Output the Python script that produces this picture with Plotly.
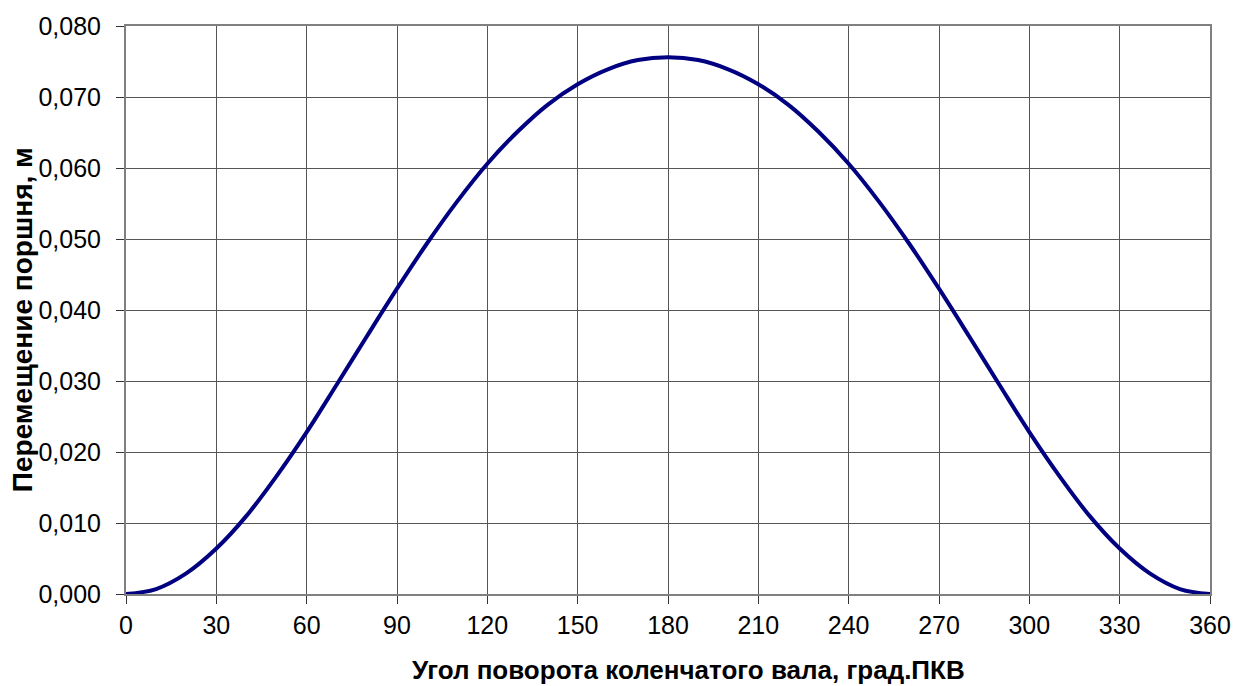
import plotly.graph_objects as go

# Crank angle, degrees
angle_deg = [0, 10, 20, 30, 40, 50, 60, 70, 80, 90, 100, 110, 120, 130, 140, 150, 160, 170,
             180, 190, 200, 210, 220, 230, 240, 250, 260, 270, 280, 290, 300, 310, 320, 330,
             340, 350, 360]

# Piston displacement, m
displacement_m = [0.0000, 0.0007, 0.0029, 0.0064, 0.0110, 0.0166, 0.0228, 0.0295, 0.0363,
                  0.0430, 0.0494, 0.0553, 0.0606, 0.0651, 0.0689, 0.0718, 0.0739, 0.0752,
                  0.0756, 0.0752, 0.0739, 0.0718, 0.0689, 0.0651, 0.0606, 0.0553, 0.0494,
                  0.0430, 0.0363, 0.0295, 0.0228, 0.0166, 0.0110, 0.0064, 0.0029, 0.0007,
                  0.0000]

x_title = "Угол поворота коленчатого вала, град.ПКВ"
y_title = "Перемещение поршня, м"

FONT = "Liberation Sans, Arial, sans-serif"

# plot-area edges in pixels
L, R, T, B = 126, 1217, 25, 594

fig = go.Figure()
fig.add_trace(go.Scatter(
    x=angle_deg, y=displacement_m, mode="lines",
    line=dict(color="#000080", width=4, shape="spline", smoothing=1.0),
    hoverinfo="x+y", showlegend=False,
))

axis_common = dict(
    showgrid=True, gridcolor="#555555", gridwidth=1,
    showline=True, linecolor="#808080", linewidth=2, mirror=True,
    ticks="outside", ticklen=8, tickcolor="#333333", tickwidth=1,
    tickfont=dict(family=FONT, size=25), zeroline=False,
)

fig.update_layout(
    width=1243, height=686,
    margin=dict(l=L, r=1243 - R, t=T, b=686 - B),
    paper_bgcolor="white", plot_bgcolor="white",
    separators=", ",
    font=dict(family=FONT, size=25, color="black"),
    xaxis=dict(range=[0, 360], tickvals=list(range(0, 361, 30)), **axis_common),
    yaxis=dict(range=[0, 0.080], dtick=0.010, tickformat=".3f",
               ticklabelstandoff=10, **axis_common),
    annotations=[
        dict(text="<b>" + x_title + "</b>", xref="paper", yref="paper",
             x=(692 - L) / (R - L), y=-(670 - B) / (B - T),
             xanchor="center", yanchor="middle", showarrow=False,
             font=dict(family=FONT, size=26)),
        dict(text="<b>" + y_title + "</b>", xref="paper", yref="paper",
             x=-(L - 22) / (R - L), y=(B - 319) / (B - T),
             xanchor="center", yanchor="middle", showarrow=False, textangle=-90,
             font=dict(family=FONT, size=28)),
    ],
)

fig.write_html("out.html")
